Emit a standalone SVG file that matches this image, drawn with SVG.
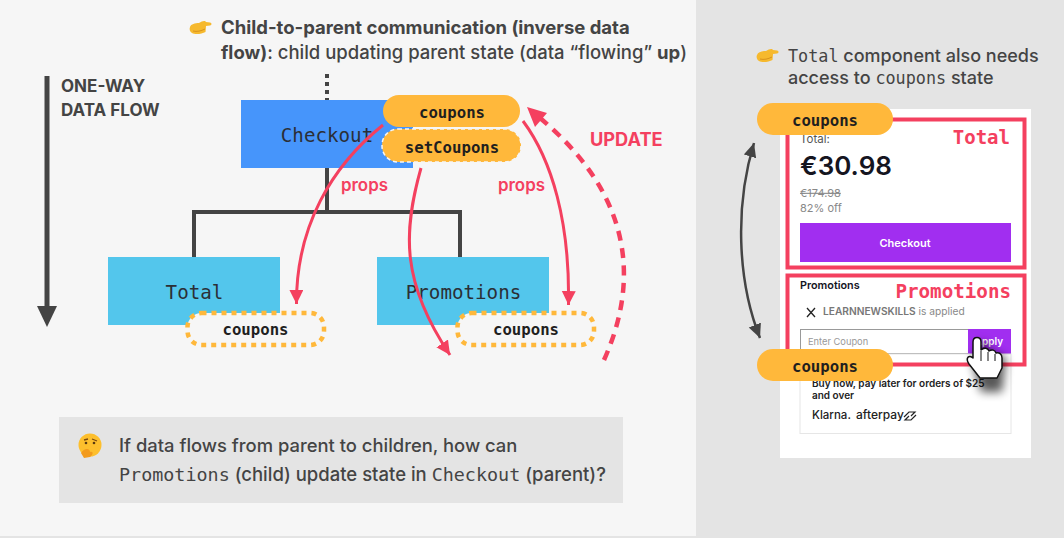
<svg xmlns="http://www.w3.org/2000/svg" width="1064" height="538" viewBox="0 0 1064 538">
<style>
.s{font-family:Inter,"Noto Sans","Liberation Sans",sans-serif}
.m{font-family:"DejaVu Sans Mono","Liberation Mono",monospace}
.h{font-size:18.500px;font-weight:500;fill:#444}
.b{font-weight:700}
.node{font-size:19.200px;fill:#2b2f36;text-anchor:middle}
.pt{font-size:15.700px;font-weight:700;fill:#1f1f1f;text-anchor:middle}
.red{fill:#f4405f}
.cur{fill:none;stroke:#f4405f;stroke-width:3}
.pill{fill:#ffb83b}
.dot{fill:#f6f6f6;stroke:#ffb83b;stroke-width:4.500;stroke-dasharray:5 5}
</style>
<defs>
<marker id="ar" markerUnits="userSpaceOnUse" markerWidth="16" markerHeight="16" refX="14" refY="7" orient="auto"><path d="M0 0L14 7L0 14z" fill="#f4405f"/></marker>
<marker id="ag" markerUnits="userSpaceOnUse" markerWidth="16" markerHeight="16" refX="14" refY="6.500" orient="auto-start-reverse"><path d="M0 0L14 6.500L0 13z" fill="#444"/></marker>
<filter id="sh" x="-60%" y="-60%" width="220%" height="220%"><feGaussianBlur stdDeviation="5"/></filter>
<g id="pointer"><path d="M0 7C1 4 5 3 9 3C12 1 15 0 16 2L20 2.500C22 3 22 5 20 5.500L16 6L15.500 12C12 14 5 15 2 13C0 12 -1 9 0 7z" fill="#f6b92e"/><path d="M3 11C7 12 11 11 15 9" stroke="#d9931c" stroke-width="1" fill="none"/></g>
</defs>
<rect width="1064" height="538" fill="#e4e4e4"/>
<rect width="696" height="536" fill="#f6f6f6"/>

<g id="header">
<use href="#pointer" x="190" y="20"/>
<text class="s h" x="221" y="33.500"><tspan class="b">Child-to-parent communication (inverse data</tspan><tspan x="221" y="58.500" class="b">flow)</tspan><tspan>: child updating parent state (data “flowing” </tspan><tspan class="b">up</tspan><tspan>)</tspan></text>
</g>

<g id="flow">
<path d="M47 76V310" stroke="#444" stroke-width="5" fill="none"/>
<path d="M37 306H57L47 327z" fill="#444"/>
<text class="s b" x="61" y="92" font-size="17" fill="#444">ONE-WAY</text>
<text class="s b" x="61" y="116" font-size="17" fill="#444">DATA FLOW</text>
</g>

<g id="tree" fill="none" stroke="#444" stroke-width="4">
<path d="M327 74V100" stroke-dasharray="4 4"/>
<path d="M327 168V212M194 257V212H460V257"/>
</g>

<g id="checkout"><rect x="241" y="100" width="172" height="68" fill="#4695fb"/><text class="m node" x="327" y="141.500">Checkout</text></g>
<g id="total"><rect x="108" y="257" width="172" height="68" fill="#53c6ec"/><text class="m node" x="194.500" y="298.500">Total</text></g>
<g id="promotions"><rect x="377" y="257" width="172" height="68" fill="#53c6ec"/><text class="m node" x="463.500" y="298.500">Promotions</text></g>

<g id="state-coupons"><rect class="pill" x="383" y="95" width="137" height="32" rx="16"/><text class="m pt" x="452" y="117.500">coupons</text></g>
<g id="state-setcoupons"><rect class="pill" x="382" y="129" width="139" height="33" rx="16" stroke="#f6f6f6" stroke-width="1.500" stroke-dasharray="4 3"/><text class="m pt" x="452" y="152.500">setCoupons</text></g>
<g id="prop-total"><rect class="dot" x="187.500" y="313" width="136.500" height="32" rx="14"/><text class="m pt" x="255.500" y="334.500">coupons</text></g>
<g id="prop-promotions"><rect class="dot" x="457.500" y="313" width="136.500" height="32" rx="14"/><text class="m pt" x="526" y="334.500">coupons</text></g>

<g id="connectors">
<path class="cur" d="M383 125C332 166 296 226 296.500 304" marker-end="url(#ar)"/>
<path class="cur" d="M421 168C403 232 401 282 450 355" marker-end="url(#ar)"/>
<path class="cur" d="M523 121C552 160 570 222 568.500 305" marker-end="url(#ar)"/>
<path d="M604 360C640 280 632 195 540 118" fill="none" stroke="#f4405f" stroke-width="4.500" stroke-dasharray="10 7.500"/>
<path d="M527 107L547 113L535 127z" class="red"/>
<path d="M754 143C735 205 737 280 760 338" fill="none" stroke="#444" stroke-width="2.500" marker-start="url(#ag)" marker-end="url(#ag)"/>
</g>

<g id="labels">
<text class="s red" x="341" y="191" font-size="16.900" font-weight="600">props</text>
<text class="s red" x="498" y="191" font-size="16.900" font-weight="600">props</text>
<text class="s red" x="590" y="146" font-size="18.200" font-weight="700">UPDATE</text>
</g>

<g id="note">
<rect x="59" y="417" width="564" height="86" fill="#e4e4e4"/>
<circle cx="90" cy="445" r="11.500" fill="#fdbf2d"/>
<path d="M81 453C84 448 90 448 90 452C94 451 93 455 90 457L84 458z" fill="#f29a1c"/>
<path d="M84 440L88 439M92 439L97 441" stroke="#7a4a10" stroke-width="1.300" fill="none"/><circle cx="86" cy="443" r="1.300" fill="#5a3a10"/><circle cx="94" cy="443" r="1.300" fill="#5a3a10"/>
<text class="s" x="119" y="452" font-size="18.400" font-weight="500" fill="#444">If data flows from parent to children, how can</text>
<text class="s" y="481" font-size="18.500" font-weight="500" fill="#444"><tspan class="m" x="119" font-size="18.400">Promotions</tspan><tspan> (child) update state in </tspan><tspan class="m" font-size="18.400">Checkout</tspan><tspan> (parent)?</tspan></text>
</g>

<g id="side-note">
<use href="#pointer" x="757" y="48"/>
<text class="s" font-size="18" font-weight="500" fill="#444"><tspan class="m" x="788" y="62" font-size="16.800">Total</tspan><tspan> component also needs</tspan><tspan x="788" y="84">access to </tspan><tspan class="m" font-size="16.800">coupons</tspan><tspan> state</tspan></text>
</g>

<g id="card">
<rect x="780" y="109" width="251" height="349" fill="#fff"/>
<text class="s" x="800" y="143" font-size="11.500" fill="#555">Total:</text>
<text class="s" x="800" y="175" font-size="26" font-weight="600" fill="#15151f">€30.98</text>
<text class="s" x="800" y="197" font-size="11" fill="#888" text-decoration="line-through">€174.98</text>
<text class="s" x="800" y="212" font-size="11" fill="#888">82% off</text>
<rect x="800" y="223" width="211" height="39" fill="#a12ef0"/>
<text class="s" x="905" y="247" font-size="11" font-weight="600" fill="#fff" text-anchor="middle">Checkout</text>
<text class="s" x="800" y="289" font-size="10.800" font-weight="600" fill="#15151f">Promotions</text>
<path d="M807 308L815 317M815 308L807 317" stroke="#222" stroke-width="1.300"/>
<text class="s" x="823" y="315" font-size="10.200" fill="#888"><tspan font-weight="600" fill="#777">LEARNNEWSKILLS</tspan> is applied</text>
<rect x="800.500" y="329.500" width="168" height="24" fill="#fff" stroke="#999"/>
<text class="s" x="808" y="345" font-size="9.300" fill="#999">Enter Coupon</text>
<rect x="968" y="329" width="43" height="25" fill="#a12ef0"/>
<text class="s" x="989" y="345" font-size="10" font-weight="600" fill="#fff" text-anchor="middle">Apply</text>
<rect x="800" y="354" width="211" height="79.500" fill="none" stroke="#e6e6e6"/>
<text class="s" x="812" y="387" font-size="10" font-weight="600" fill="#222">Buy now, pay later for orders of $25</text>
<text class="s" x="812" y="399" font-size="10" font-weight="600" fill="#222">and over</text>
<text class="s" x="812" y="419" font-size="11.500" font-weight="500" fill="#222">Klarna.</text>
<text class="s" x="856" y="419" font-size="12" font-weight="500" fill="#222">afterpay</text>
<path d="M904 417L909 412H915L911 416M916 415L911 420H905L909 416" fill="none" stroke="#222" stroke-width="1.200"/>
<rect x="787.500" y="119.500" width="237" height="148" fill="none" stroke="#f4405f" stroke-width="4"/>
<rect x="787.500" y="275.500" width="237" height="89" fill="none" stroke="#f4405f" stroke-width="4"/>
<text class="m red" x="1010" y="144" font-size="19" font-weight="700" text-anchor="end">Total</text>
<text class="m red" x="1011" y="298" font-size="19.200" font-weight="700" text-anchor="end">Promotions</text>
</g>

<g id="cursor">
<path d="M975 372L981 392L1002 392L1006 358L990 350L983 340L972 360z" fill="#000" opacity=".65" filter="url(#sh)"/>
<path d="M973 354V342C973 336 981 336 981 342V350C984 347 988 348 989 351C992 349 995 350 996 353C999 352 1002 354 1002 358V368L997 378H980L969 364C965 358 969 354 973 358z" fill="#fff" stroke="#111" stroke-width="1.500" stroke-linejoin="round"/>
<path d="M981 351V361M988 352V361M995 354V361" stroke="#111" stroke-width="1"/>
</g>

<g id="card-coupons-top"><rect class="pill" x="757" y="103" width="136" height="32" rx="16"/><text class="m pt" x="825" y="125.500">coupons</text></g>
<g id="card-coupons-bottom"><rect class="pill" x="757" y="349" width="136" height="32" rx="16"/><text class="m pt" x="825" y="371.500">coupons</text></g>
</svg>
